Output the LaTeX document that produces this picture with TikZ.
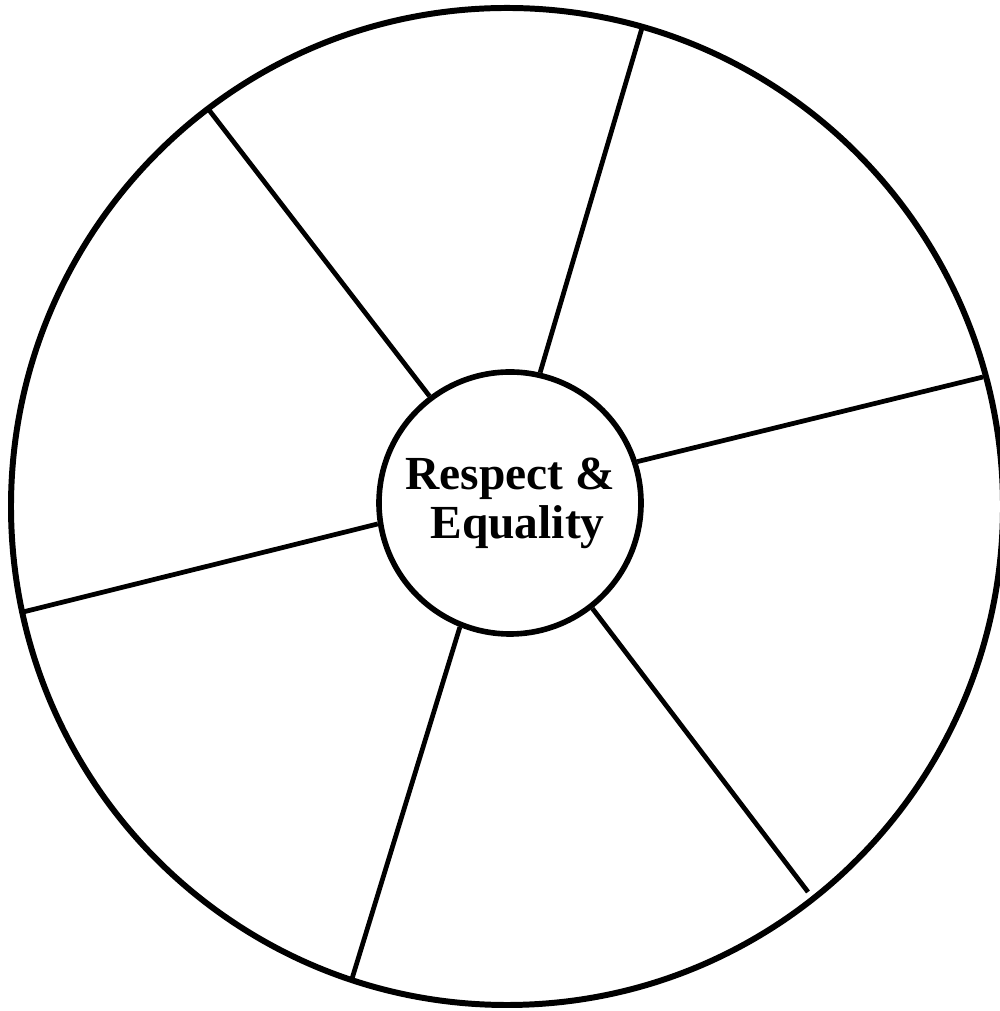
\documentclass[tikz,border=0pt]{standalone}
\usepackage{fontspec}
\setmainfont{Liberation Serif}

\begin{document}
\begin{tikzpicture}[
    rim/.style={line width=1.7pt},
    spoke/.style={line width=1.35pt},
    hubnode/.style={circle, draw, line width=1.6pt, minimum size=2.62cm,
      inner sep=0pt, align=center, font=\fontsize{13.5}{14}\selectfont\bfseries}]
  \useasboundingbox (0,0) rectangle (10,10.11);
  % --- outer rim ---
  \draw[rim] (5.07,5.045) ellipse [x radius=4.96, y radius=4.985];
  % --- hub in the middle ---
  \node[hubnode] (hub) at (5.10,5.08) {Respect \&\\\hspace{0.15cm}Equality};
  % points on the rim where the spokes end
  \coordinate (r1) at (2.09,9.01);
  \coordinate (r2) at (6.42,9.83);
  \coordinate (r3) at (9.83,6.34);
  \coordinate (r4) at (8.08,1.19);
  \coordinate (r5) at (3.51,0.29);
  \coordinate (r6) at (0.23,3.99);
  % six spokes
  \foreach \a/\r in {127.7/r1, 77.8/r2, 18.6/r3, -52/r4, -112.8/r5, 189.4/r6}{
    \draw[spoke] (hub.\a) -- (\r);
  }
\end{tikzpicture}
\end{document}
